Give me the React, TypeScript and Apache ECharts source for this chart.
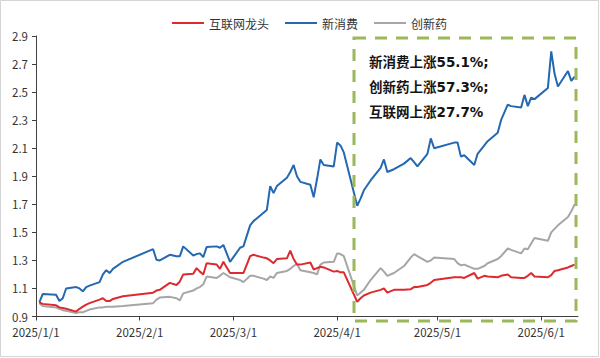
import React, { useEffect, useRef } from "react";
import * as echarts from "echarts";

const seriesNames = ["互联网龙头", "新消费", "创新药"];

const dates = [
  "2025/1/2", "2025/1/3", "2025/1/7", "2025/1/8", "2025/1/9", "2025/1/10", "2025/1/13", "2025/1/14", "2025/1/15", "2025/1/16",
  "2025/1/17", "2025/1/20", "2025/1/21", "2025/1/22", "2025/1/23", "2025/1/24", "2025/1/27", "2025/2/5", "2025/2/6", "2025/2/7",
  "2025/2/10", "2025/2/12", "2025/2/13", "2025/2/14", "2025/2/17", "2025/2/18", "2025/2/19", "2025/2/20", "2025/2/21", "2025/2/24",
  "2025/2/25", "2025/2/26", "2025/2/28", "2025/3/3", "2025/3/4", "2025/3/6", "2025/3/7", "2025/3/10", "2025/3/11", "2025/3/12",
  "2025/3/13", "2025/3/14", "2025/3/17", "2025/3/18", "2025/3/19", "2025/3/20", "2025/3/21", "2025/3/24", "2025/3/25", "2025/3/26",
  "2025/3/27", "2025/3/28", "2025/3/31", "2025/4/1", "2025/4/2", "2025/4/3", "2025/4/7", "2025/4/8", "2025/4/9", "2025/4/11",
  "2025/4/14", "2025/4/15", "2025/4/16", "2025/4/18", "2025/4/21", "2025/4/23", "2025/4/24", "2025/4/25", "2025/4/28", "2025/4/29",
  "2025/4/30", "2025/5/6", "2025/5/7", "2025/5/8", "2025/5/9", "2025/5/12", "2025/5/13", "2025/5/15", "2025/5/16", "2025/5/19",
  "2025/5/20", "2025/5/22", "2025/5/23", "2025/5/26", "2025/5/27", "2025/5/28", "2025/5/29", "2025/5/30", "2025/6/3", "2025/6/4",
  "2025/6/5", "2025/6/6", "2025/6/9", "2025/6/10", "2025/6/11",
];

const internetValues = [
  1.0, 0.99, 0.98, 0.965, 0.96, 0.955, 0.935, 0.955, 0.97, 0.985,
  0.995, 1.02, 1.03, 1.01, 1.01, 1.025, 1.045, 1.07, 1.085, 1.09,
  1.14, 1.125, 1.15, 1.2, 1.205, 1.245, 1.22, 1.2, 1.28, 1.27,
  1.24, 1.29, 1.21, 1.21, 1.21, 1.33, 1.34, 1.32, 1.315, 1.3,
  1.28, 1.31, 1.315, 1.37, 1.31, 1.27, 1.27, 1.285, 1.235, 1.245,
  1.255, 1.25, 1.22, 1.225, 1.215, 1.215, 1.005, 1.03, 1.05, 1.07,
  1.09, 1.1, 1.07, 1.09, 1.09, 1.095, 1.11, 1.11, 1.125, 1.14,
  1.16, 1.18, 1.18, 1.18, 1.175, 1.21, 1.17, 1.19, 1.185, 1.18,
  1.19, 1.2, 1.18, 1.175, 1.175, 1.19, 1.21, 1.185, 1.18, 1.195,
  1.225, 1.23, 1.25, 1.26, 1.27,
];

const consumerValues = [
  1.0, 1.06, 1.055, 1.01, 1.03, 1.1, 1.11, 1.1, 1.08, 1.11,
  1.12, 1.145, 1.2, 1.23, 1.21, 1.24, 1.29, 1.38, 1.305, 1.3,
  1.34, 1.33, 1.33, 1.4, 1.335, 1.345, 1.35, 1.323, 1.395, 1.4,
  1.39, 1.41, 1.29, 1.39, 1.4, 1.55, 1.58, 1.64, 1.66, 1.83,
  1.78, 1.83, 1.89, 1.93, 1.98, 1.9, 1.86, 1.84, 1.75, 1.88,
  2.02, 1.98, 1.97, 2.14, 2.12, 2.07, 1.69, 1.74, 1.8, 1.87,
  1.96, 2.02, 1.93, 1.95, 1.99, 2.03, 2.0, 1.97, 2.06, 2.17,
  2.1, 2.14, 2.14, 2.04, 2.05, 1.98, 2.06, 2.12, 2.15, 2.21,
  2.3, 2.41, 2.4, 2.39, 2.48, 2.4, 2.46, 2.45, 2.53, 2.79,
  2.63, 2.54, 2.65, 2.58, 2.61,
];

const pharmaValues = [
  0.995, 0.975, 0.965, 0.955, 0.945, 0.94, 0.925, 0.93, 0.93, 0.94,
  0.95, 0.965, 0.965, 0.97, 0.97, 0.97, 0.975, 0.995, 1.02, 1.035,
  1.04, 1.03, 1.015, 1.065, 1.085, 1.1, 1.11, 1.13, 1.185, 1.175,
  1.19, 1.21, 1.18, 1.16, 1.145, 1.19, 1.19, 1.17, 1.16, 1.185,
  1.175, 1.21, 1.225, 1.24, 1.26, 1.275, 1.23, 1.215, 1.21, 1.2,
  1.27, 1.285, 1.29, 1.35, 1.345, 1.33, 1.05, 1.07, 1.09, 1.16,
  1.245, 1.22, 1.19, 1.21, 1.26, 1.32, 1.345, 1.33, 1.29, 1.3,
  1.32, 1.31, 1.28, 1.265, 1.27, 1.24, 1.24, 1.26, 1.28, 1.31,
  1.33, 1.385, 1.375, 1.35, 1.385, 1.38, 1.42, 1.46, 1.44, 1.5,
  1.525, 1.55, 1.61, 1.65, 1.7,
];

const yTickLabels = ["0.9", "1.1", "1.3", "1.5", "1.7", "1.9", "2.1", "2.3", "2.5", "2.7", "2.9"];

const annotationLines = ["新消费上涨55.1%;", "创新药上涨57.3%;", "互联网上涨27.7%"];

const axisStart = new Date(2025, 0, 1);
const axisEnd = new Date(2025, 5, 12);

function buildCategories(): string[] {
  const out: string[] = [];
  const d = new Date(axisStart.getTime());
  while (d.getTime() <= axisEnd.getTime()) {
    out.push(`${d.getFullYear()}/${d.getMonth() + 1}/${d.getDate()}`);
    d.setDate(d.getDate() + 1);
  }
  return out;
}

const FONT = '"Noto Sans CJK SC", "Noto Sans", sans-serif';
const NOTE_FONT = 'bold 13.5px "DejaVu Sans", "Noto Sans CJK SC", sans-serif';

export default function App() {
  const ref = useRef<HTMLDivElement>(null);

  useEffect(() => {
    if (!ref.current) return;
    const chart = echarts.init(ref.current, undefined, { renderer: "svg" });
    const categories = buildCategories();
    const isMonthStart = (_i: number, v: string) => /\/1$/.test(v);
    const pair = (vals: number[]) => dates.map((d, i) => [d, vals[i]]);

    chart.setOption({
      animation: false,
      backgroundColor: "#ffffff",
      textStyle: { fontFamily: FONT },
      legend: {
        data: seriesNames,
        left: 167,
        top: 12,
        icon: "rect",
        itemWidth: 32,
        itemHeight: 2,
        itemGap: 16,
        textStyle: { fontSize: 12, color: "#333333", fontFamily: FONT },
      },
      grid: { left: 36, right: 22, top: 36, bottom: 41.5, containLabel: false },
      xAxis: {
        type: "category",
        data: categories,
        boundaryGap: false,
        axisLine: { lineStyle: { color: "#404040", width: 1 } },
        axisTick: { interval: isMonthStart, length: 4, inside: false, lineStyle: { color: "#404040" } },
        axisLabel: { interval: isMonthStart, color: "#333333", fontSize: 11.5, margin: 10, fontFamily: FONT },
        splitLine: { show: false },
      },
      yAxis: [
        { type: "value", min: 0.9, max: 2.9, show: false, splitLine: { show: false } },
        {
          type: "value",
          min: 0,
          max: 2,
          interval: 0.2,
          position: "left",
          axisLine: { show: true, lineStyle: { color: "#404040", width: 1 } },
          axisTick: { show: true, length: 4, inside: false, lineStyle: { color: "#404040" } },
          axisLabel: {
            color: "#333333",
            fontSize: 11.5,
            margin: 8,
            fontFamily: FONT,
            formatter: (v: number) => yTickLabels[Math.round(v / 0.2)] ?? "",
          },
          splitLine: { show: false },
        },
      ],
      series: [
        {
          name: seriesNames[0],
          type: "line",
          yAxisIndex: 0,
          data: pair(internetValues),
          symbol: "none",
          z: 4,
          lineStyle: { color: "#dc2a2e", width: 2 },
          itemStyle: { color: "#dc2a2e" },
        },
        {
          name: seriesNames[1],
          type: "line",
          yAxisIndex: 0,
          data: pair(consumerValues),
          symbol: "none",
          z: 3,
          lineStyle: { color: "#2468b1", width: 2 },
          itemStyle: { color: "#2468b1" },
        },
        {
          name: seriesNames[2],
          type: "line",
          yAxisIndex: 0,
          data: pair(pharmaValues),
          symbol: "none",
          z: 2,
          lineStyle: { color: "#a6a6a6", width: 2 },
          itemStyle: { color: "#a6a6a6" },
        },
      ],
      graphic: [
        {
          type: "rect",
          silent: true,
          shape: { x: 0.5, y: 0.5, width: 598, height: 356 },
          style: { fill: "none", stroke: "#d4d4d4", lineWidth: 1 },
        },
        {
          type: "rect",
          silent: true,
          z: 10,
          shape: { x: 354, y: 38, width: 222, height: 283 },
          style: { fill: "none", stroke: "#9bb85a", lineWidth: 3, lineDash: [12, 9] },
        },
        ...annotationLines.map((t, i) => ({
          type: "text",
          silent: true,
          z: 11,
          x: 369,
          y: 62 + i * 25,
          style: {
            text: t,
            fill: "#141414",
            font: NOTE_FONT,
            verticalAlign: "middle",
          },
        })),
      ],
    });

    return () => chart.dispose();
  }, []);

  return (
    <div
      ref={ref}
      style={{ position: "fixed", left: 0, top: 0, width: 600, height: 358, background: "#fff" }}
    />
  );
}
